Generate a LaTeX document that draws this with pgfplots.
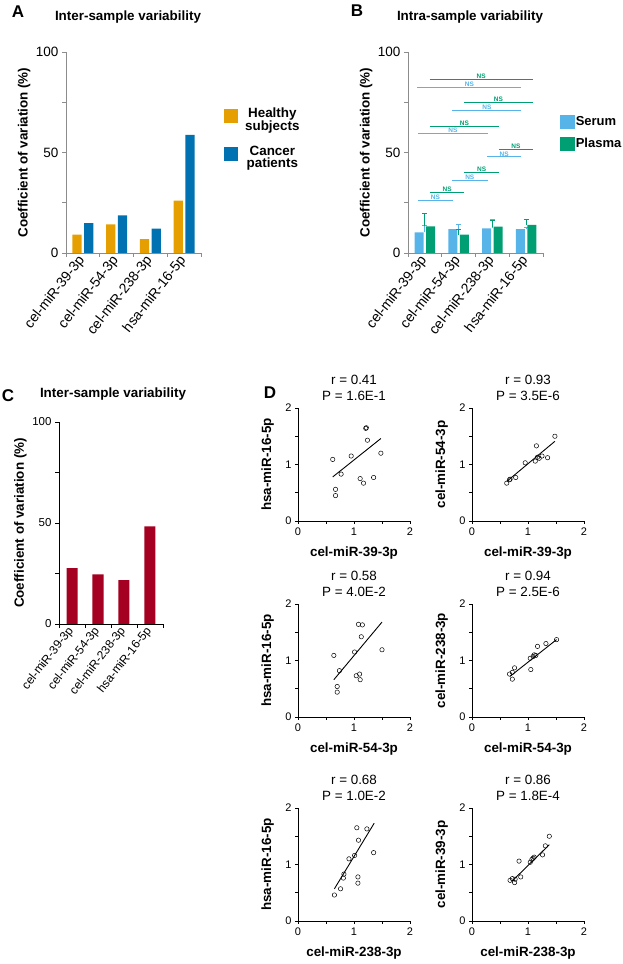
\documentclass[border=0pt]{standalone}
\usepackage{fontspec}
\setmainfont{Liberation Sans}
\usepackage{pgfplots}
\pgfplotsset{compat=1.18}
\definecolor{healthy}{HTML}{E69F00}
\definecolor{cancer}{HTML}{0072B2}
\definecolor{serum}{HTML}{56B4E9}
\definecolor{plasma}{HTML}{009E73}
\definecolor{cbar}{HTML}{A50021}
\definecolor{axgray}{HTML}{8C8C8C}
\newcommand\fs[1]{\fontsize{#1}{#1}\selectfont}
\newcommand\fsl[2]{\fontsize{#1}{#2}\selectfont}

\pgfplotsset{
  base/.style={
    scale only axis, anchor=south west,
    axis x line=bottom, axis y line=left,
    axis line style={-},
    every outer x axis line/.append style={-},
    every outer y axis line/.append style={-},
    tick align=outside, tick pos=left,
    /pgf/number format/assume math mode=true,
    clip=false,
  },
  barax/.style={
    base,
    xmin=-0.5, xmax=3.5, ymin=0, ymax=100,
    ytick={0,50,100}, minor ytick={25,75},
    xtick={0,1,2,3}, minor xtick={-0.5,0.5,1.5,2.5,3.5},
    major x tick style={draw=none},
    xticklabels={cel-miR-39-3p,cel-miR-54-3p,cel-miR-238-3p,hsa-miR-16-5p},
    xticklabel style={rotate=52, anchor=east, inner sep=1pt},
    ylabel={Coefficient of variation (\%)},
    ylabel style={font=\fs{13.4}\bfseries, inner sep=2pt},
  },
  grayax/.style={
    axis line style={axgray, line width=0.8pt},
    every tick/.style={axgray, line width=0.8pt},
    major tick length=4pt, minor tick length=4pt,
    yticklabel style={font=\fs{13.5}},
    xticklabel style={font=\fs{14}},
    width=135pt, height=201pt,
  },
  scat/.style={
    base,
    width=112pt, height=113pt,
    xmin=0, xmax=2, ymin=0, ymax=2,
    xtick={0,1,2}, ytick={0,1,2}, minor xtick={0.5,1.5}, minor ytick={0.5,1.5},
    axis line style={black, line width=0.9pt},
    every tick/.style={black, line width=0.9pt},
    major tick length=3pt, minor tick length=3pt,
    ticklabel style={font=\fs{11}},
    every axis x label/.style={at={(axis description cs:0.5,-0.285)}, anchor=center, font=\fs{13.4}\bfseries},
    every axis y label/.style={at={(axis description cs:-0.27,0.5)}, rotate=90, anchor=center, font=\fs{13.4}\bfseries},
    title style={at={(axis description cs:0.5,1)}, anchor=south, inner sep=0pt, yshift=1pt, align=center, font=\fsl{13.4}{16}},
  },
  pts/.style={only marks, mark=o, mark size=2.2pt, mark options={line width=0.5pt}, black},
  reg/.style={black, line width=0.9pt},
}

\begin{document}
\begin{tikzpicture}[x=1pt,y=1pt]
\useasboundingbox (0,0) rectangle (622,964);

% ---------------- Panel A ----------------
\begin{axis}[barax, grayax, at={(66pt,711pt)},
  legend style={at={(axis description cs:1.145,0.745)}, anchor=north west, draw=none, fill=none,
    font=\fsl{13.4}{12}\bfseries, cells={align=center}, row sep=10pt,
    /tikz/every odd column/.append style={column sep=6pt}},
  legend cell align=center]
\addplot[ybar, bar width=9.3pt, bar shift=-5.8pt, fill=healthy, draw=none, forget plot]
  coordinates {(0,9.1) (1,14.2) (2,6.9) (3,26.0)};
\addplot[ybar, bar width=9.3pt, bar shift=5.8pt, fill=cancer, draw=none, forget plot]
  coordinates {(0,14.9) (1,18.7) (2,12.1) (3,58.8)};
\addlegendimage{legend image code/.code={\fill[healthy] (0pt,-2.5pt) rectangle (13pt,10.5pt);}}
\addlegendentry{Healthy\\subjects}
\addlegendimage{legend image code/.code={\fill[cancer] (0pt,-2.5pt) rectangle (13pt,10.5pt);}}
\addlegendentry{Cancer\\patients}
\end{axis}

% ---------------- Panel B ----------------
\begin{axis}[barax, grayax, at={(408pt,711pt)},
  legend style={at={(axis description cs:1.105,0.695)}, anchor=north west, draw=none, fill=none,
    font=\fs{13}\bfseries, row sep=8pt, nodes={inner sep=1pt},
    /tikz/every odd column/.append style={column sep=0pt}},
  legend cell align=left]
\addplot[ybar, bar width=9pt, bar shift=-5.7pt, fill=serum, draw=none, forget plot,
  error bars/.cd, y dir=plus, y explicit,
  error bar style={draw=serum, line width=0.8pt},
  error mark options={rotate=90, draw=serum, mark size=2.5pt, line width=0.8pt}]
  coordinates {(0,10.2) +- (0,3.4) (1,11.9) +- (0,2.1) (2,12.2) +- (0,4.3) (3,11.9) +- (0,0.8)};
\addplot[ybar, bar width=9pt, bar shift=5.7pt, fill=plasma, draw=none, forget plot,
  error bars/.cd, y dir=plus, y explicit,
  error bar style={draw=plasma, line width=0.8pt},
  error mark options={rotate=90, draw=plasma, mark size=2.5pt, line width=0.8pt}]
  coordinates {(0,13.2) +- (0,6.3) (1,9.1) +- (0,2.5) (2,13.1) +- (0,2.9) (3,14.0) +- (0,2.5)};
% significance lines
\addplot[plasma, line width=1pt, forget plot] coordinates {(0.14,86.3) (3.2,86.3)};
\addplot[serum,  line width=1pt, forget plot] coordinates {(-0.22,82.3) (2.86,82.3)};
\addplot[plasma, line width=1pt, forget plot] coordinates {(1.16,74.7) (3.2,74.7)};
\addplot[serum,  line width=1pt, forget plot] coordinates {(0.81,70.9) (2.86,70.9)};
\addplot[plasma, line width=1pt, forget plot] coordinates {(0.14,63.1) (2.2,63.1)};
\addplot[serum,  line width=1pt, forget plot] coordinates {(-0.2,59.5) (1.86,59.5)};
\addplot[plasma, line width=1pt, forget plot] coordinates {(2.19,51.7) (3.2,51.7)};
\addplot[serum,  line width=1pt, forget plot] coordinates {(1.84,47.8) (2.86,47.8)};
\addplot[plasma, line width=1pt, forget plot] coordinates {(1.16,40.2) (2.2,40.2)};
\addplot[serum,  line width=1pt, forget plot] coordinates {(0.81,36.2) (1.86,36.2)};
\addplot[plasma, line width=1pt, forget plot] coordinates {(0.14,30.1) (1.17,30.1)};
\addplot[serum,  line width=1pt, forget plot] coordinates {(-0.2,26.1) (0.83,26.1)};
\begin{scope}[every node/.style={font=\fs{6.5}\bfseries, anchor=south, inner sep=0.6pt}]
\node[plasma] at (axis cs:1.67,86.3) {NS};
\node[serum]  at (axis cs:1.32,82.3) {NS};
\node[plasma] at (axis cs:2.18,74.7) {NS};
\node[serum]  at (axis cs:1.84,70.9) {NS};
\node[plasma] at (axis cs:1.17,63.1) {NS};
\node[serum]  at (axis cs:0.83,59.5) {NS};
\node[plasma] at (axis cs:2.70,51.7) {NS};
\node[serum]  at (axis cs:2.35,47.8) {NS};
\node[plasma] at (axis cs:1.68,40.2) {NS};
\node[serum]  at (axis cs:1.33,36.2) {NS};
\node[plasma] at (axis cs:0.66,30.1) {NS};
\node[serum]  at (axis cs:0.31,26.1) {NS};
\end{scope}
\addlegendimage{legend image code/.code={\fill[serum] (0pt,-6.5pt) rectangle (14pt,6.5pt);}}
\addlegendentry{Serum}
\addlegendimage{legend image code/.code={\fill[plasma] (0pt,-6.5pt) rectangle (14pt,6.5pt);}}
\addlegendentry{Plasma}
\end{axis}

% ---------------- Panel C ----------------
\begin{axis}[barax, at={(59pt,340pt)}, width=104pt, height=202pt,
  axis line style={black, line width=0.8pt},
  every tick/.style={black, line width=0.8pt},
  major tick length=4pt, minor tick length=4pt,
  yticklabel style={font=\fs{11.5}},
  xticklabel style={font=\fs{12}}]
\addplot[ybar, bar width=11pt, bar shift=0pt, fill=cbar, draw=none]
  coordinates {(0,27.6) (1,24.6) (2,21.7) (3,48.3)};
\end{axis}

% ---------------- Panel D ----------------
\begin{axis}[scat, at={(298pt,443pt)}, title={r = 0.41\\P = 1.6E-1},
  xlabel={cel-miR-39-3p}, ylabel={hsa-miR-16-5p}]
\addplot[pts] coordinates {(1.21,1.64) (1.22,1.65) (1.24,1.43) (0.62,1.09) (0.95,1.15) (1.48,1.20)
  (0.77,0.83) (1.11,0.75) (1.17,0.67) (1.35,0.77) (0.67,0.56) (0.67,0.45)};
\addplot[reg] coordinates {(0.62,0.78) (1.48,1.46)};
\end{axis}

\begin{axis}[scat, at={(472pt,443pt)}, title={r = 0.93\\P = 3.5E-6},
  xlabel={cel-miR-39-3p}, ylabel={cel-miR-54-3p}]
\addplot[pts] coordinates {(1.48,1.50) (1.15,1.33) (1.35,1.12) (1.17,1.13) (1.20,1.11) (1.25,1.15)
  (1.13,1.06) (0.95,1.03) (0.78,0.77) (0.67,0.73) (0.68,0.74) (0.62,0.67)};
\addplot[reg] coordinates {(0.62,0.70) (1.48,1.41)};
\end{axis}

\begin{axis}[scat, at={(298pt,247pt)}, title={r = 0.58\\P = 4.0E-2},
  xlabel={cel-miR-54-3p}, ylabel={hsa-miR-16-5p}]
\addplot[pts] coordinates {(1.08,1.64) (1.15,1.63) (1.13,1.42) (1.01,1.15) (1.50,1.19) (0.64,1.09)
  (0.74,0.82) (1.04,0.73) (1.10,0.76) (1.11,0.66) (0.70,0.54) (0.70,0.44)};
\addplot[reg] coordinates {(0.64,0.66) (1.50,1.68)};
\end{axis}

\begin{axis}[scat, at={(472pt,247pt)}, title={r = 0.94\\P = 2.5E-6},
  xlabel={cel-miR-54-3p}, ylabel={cel-miR-238-3p}]
\addplot[pts] coordinates {(1.51,1.37) (1.32,1.30) (1.17,1.25) (1.11,1.10) (1.14,1.09) (1.09,1.07)
  (1.04,1.04) (1.05,0.84) (0.76,0.87) (0.72,0.79) (0.67,0.76) (0.72,0.67)};
\addplot[reg] coordinates {(0.68,0.72) (1.51,1.37)};
\end{axis}

\begin{axis}[scat, at={(298pt,43pt)}, title={r = 0.68\\P = 1.0E-2},
  xlabel={cel-miR-238-3p}, ylabel={hsa-miR-16-5p}]
\addplot[pts] coordinates {(1.05,1.65) (1.23,1.63) (1.08,1.43) (0.91,1.10) (1.01,1.16) (1.35,1.21)
  (0.82,0.83) (0.81,0.76) (1.07,0.78) (1.07,0.67) (0.76,0.57) (0.65,0.46)};
\addplot[reg] coordinates {(0.65,0.57) (1.36,1.73)};
\end{axis}

\begin{axis}[scat, at={(472pt,43pt)}, title={r = 0.86\\P = 1.8E-4},
  xlabel={cel-miR-238-3p}, ylabel={cel-miR-39-3p}]
\addplot[pts] coordinates {(1.38,1.50) (1.31,1.33) (1.26,1.17) (1.11,1.13) (1.09,1.11) (1.07,1.09)
  (1.04,1.04) (0.84,1.06) (0.87,0.78) (0.77,0.74) (0.72,0.75) (0.68,0.72) (0.76,0.68)};
\addplot[reg] coordinates {(0.71,0.70) (1.38,1.35)};
\end{axis}

% titles and panel letters
\node[font=\fs{17}\bfseries] at (18,952) {A};
\node[font=\fs{17}\bfseries] at (357,953) {B};
\node[font=\fs{17}\bfseries] at (8,568) {C};
\node[font=\fs{17}\bfseries] at (270,571) {D};
\node[font=\fs{13.4}\bfseries] at (128,947) {Inter-sample variability};
\node[font=\fs{13.4}\bfseries] at (470,947) {Intra-sample variability};
\node[font=\fs{13.4}\bfseries] at (113,570) {Inter-sample variability};
\end{tikzpicture}
\end{document}
